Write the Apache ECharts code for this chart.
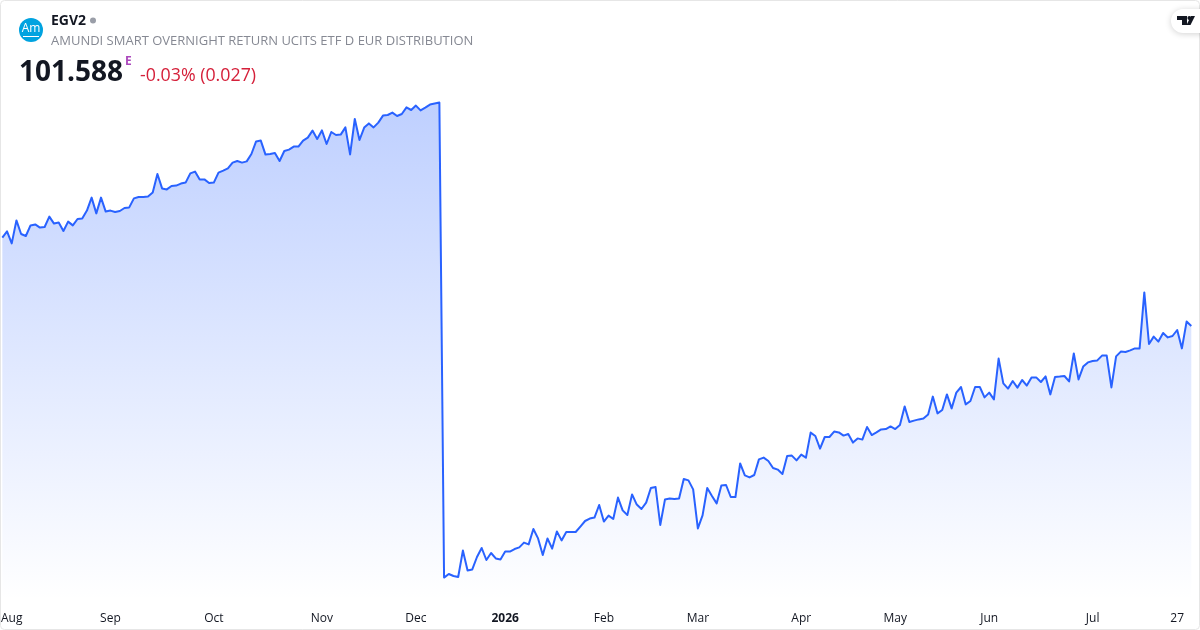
<!DOCTYPE html>
<html>
<head>
<meta charset="utf-8">
<style>html,body{margin:0;padding:0;background:#fff}#c{width:1200px;height:630px}</style>
<script src="https://cdn.jsdelivr.net/npm/echarts@6/dist/echarts.min.js"></script>
</head>
<body>
<div id="c"></div>
<script>
const augToNov = [102.030,102.061,102.001,102.116,102.048,102.038,102.091,102.096,102.080,102.083,102.135,102.100,102.105,102.063,102.110,102.091,102.123,102.125,102.165,102.230,102.151,102.230,102.160,102.165,102.158,102.163,102.178,102.181,102.226,102.233,102.233,102.236,102.256,102.348,102.276,102.271,102.288,102.290,102.300,102.305,102.351,102.360,102.320,102.321,102.303,102.305,102.355,102.365,102.376];
const octToDec = [102.405,102.413,102.405,102.411,102.448,102.511,102.515,102.445,102.448,102.453,102.413,102.463,102.470,102.485,102.485,102.515,102.530,102.565,102.523,102.566,102.498,102.558,102.543,102.545,102.581,102.446,102.623,102.518,102.580,102.601,102.581,102.605,102.640,102.643,102.655,102.638,102.648,102.681,102.668,102.690,102.666,102.680,102.695,102.700,102.705];
const decToMar = [100.330,100.348,100.338,100.333,100.465,100.366,100.371,100.433,100.478,100.418,100.453,100.426,100.421,100.460,100.460,100.473,100.481,100.505,100.496,100.573,100.526,100.443,100.526,100.475,100.561,100.516,100.558,100.558,100.558,100.585,100.613,100.625,100.630,100.693,100.610,100.640,100.623,100.730,100.666,100.643,100.746,100.695,100.673,100.705,100.778,100.783,100.593,100.720,100.725,100.723,100.726,100.823,100.816];
const marToJun = [100.771,100.576,100.641,100.778,100.738,100.701,100.790,100.793,100.733,100.733,100.901,100.841,100.831,100.843,100.921,100.930,100.913,100.878,100.870,100.848,100.938,100.940,100.916,100.945,100.930,101.055,101.038,100.975,101.033,101.033,101.060,101.056,101.040,101.048,101.005,101.026,101.020,101.083,101.043,101.056,101.071,101.073,101.086,101.073,101.093,101.186,101.108,101.115,101.121,101.125,101.145,101.235,101.151];
const junToJul = [101.168,101.246,101.176,101.255,101.283,101.196,101.213,101.283,101.283,101.231,101.255,101.221,101.425,101.301,101.275,101.313,101.280,101.318,101.290,101.330,101.331,101.308,101.336,101.246,101.333,101.335,101.338,101.311,101.451,101.321,101.385,101.406,101.413,101.416,101.440,101.440,101.281,101.436,101.460,101.458,101.466,101.476,101.476,101.756,101.498,101.535,101.510,101.553,101.531,101.538,101.568,101.476,101.610,101.588];
const prices = [...augToNov, ...octToDec, ...decToMar, ...marToJun, ...junToJul];
const categories = prices.map((_, i) => i);
const tickPositions = [2,23,45,68,88,107,128,148,170,190,210,232,250];
const tickLabels = ['Aug','Sep','Oct','Nov','Dec','2026','Feb','Mar','Apr','May','Jun','Jul','27'];
const boldLabels = ['2026'];

const font = '"Open Sans","Noto Sans",sans-serif';
const chart = echarts.init(document.getElementById('c'), null, {renderer:'canvas'});
chart.setOption({
  animation:false,
  backgroundColor:'#ffffff',
  grid:{left:2.33,right:8.7,top:90,bottom:30,containLabel:false,outerBoundsMode:'none'},
  xAxis:{
    type:'category',data:categories,boundaryGap:false,
    axisLine:{show:false},axisTick:{show:false},splitLine:{show:false},
    axisLabel:{
      margin:13,color:'#131722',fontSize:12,fontFamily:font,hideOverlap:false,
      showMinLabel:true,showMaxLabel:true,
      interval:(i)=>tickPositions.includes(i),
      formatter:(v)=>{const l=tickLabels[tickPositions.indexOf(+v)];return boldLabels.includes(l)?'{b|'+l+'}':l;},
      rich:{b:{fontWeight:'bold',fontSize:12,color:'#131722',fontFamily:font}}
    }
  },
  yAxis:{type:'value',min:100.218,max:102.768,show:false,splitLine:{show:false}},
  series:[{
    type:'line',data:prices,showSymbol:false,symbol:'none',smooth:false,
    lineStyle:{color:'#2962FF',width:2,join:'round'},
    areaStyle:{opacity:1,origin:'start',color:{type:'linear',x:0,y:0,x2:0,y2:1,colorStops:[
      {offset:0,color:'rgba(41,98,255,0.30)'},{offset:1,color:'rgba(41,98,255,0)'}]}}
  }],
  graphic:[
    {type:'rect',z:0,silent:true,shape:{x:0.5,y:0.5,width:1199,height:629,r:4},style:{fill:'none',stroke:'#e6e6e6',lineWidth:1}},
    {type:'circle',z:10,shape:{cx:31,cy:30,r:12},style:{fill:'#00a3e0'}},
    {type:'text',z:11,style:{x:31,y:29,text:'Am',fill:'#ffffff',font:'12px '+font,align:'center',verticalAlign:'middle'}},
    {type:'rect',z:11,shape:{x:23,y:36,width:16,height:1},style:{fill:'#ffffff'}},
    {type:'text',z:10,style:{x:51,y:21,text:'EGV2',fill:'#131722',font:'bold 14px '+font,align:'left',verticalAlign:'middle'}},
    {type:'circle',z:10,shape:{cx:93,cy:20.5,r:3},style:{fill:'#9a9ea8'}},
    {type:'text',z:10,style:{x:51,y:41,text:'AMUNDI SMART OVERNIGHT RETURN UCITS ETF D EUR DISTRIBUTION',fill:'#868993',font:'13px '+font,align:'left',verticalAlign:'middle'}},
    {type:'text',z:10,style:{x:19,y:73.5,text:'101.588',fill:'#131722',font:'bold 28px '+font,align:'left',verticalAlign:'middle'}},
    {type:'text',z:10,style:{x:125,y:62,text:'E',fill:'#ab47bc',font:'bold 12px '+font,align:'left',verticalAlign:'middle'}},
    {type:'text',z:10,style:{x:140,y:75.5,text:'-0.03% (0.027)',fill:'#d5203a',font:'17.8px '+font,align:'left',verticalAlign:'middle'}},
    {type:'rect',z:10,shape:{x:1171,y:9,width:60,height:24,r:12},style:{fill:'#ffffff',shadowBlur:6,shadowColor:'rgba(0,0,0,0.18)',shadowOffsetY:1}},
    {type:'polygon',z:11,shape:{points:[[1177,16],[1187,16],[1187,25],[1182,25],[1182,20],[1177,20]]},style:{fill:'#131722'}},
    {type:'circle',z:11,shape:{cx:1189.3,cy:18,r:1.9},style:{fill:'#131722'}},
    {type:'polygon',z:11,shape:{points:[[1191,16],[1195,16],[1190.5,25],[1186.5,25]]},style:{fill:'#131722'}}
  ]
});
</script>
</body>
</html>
